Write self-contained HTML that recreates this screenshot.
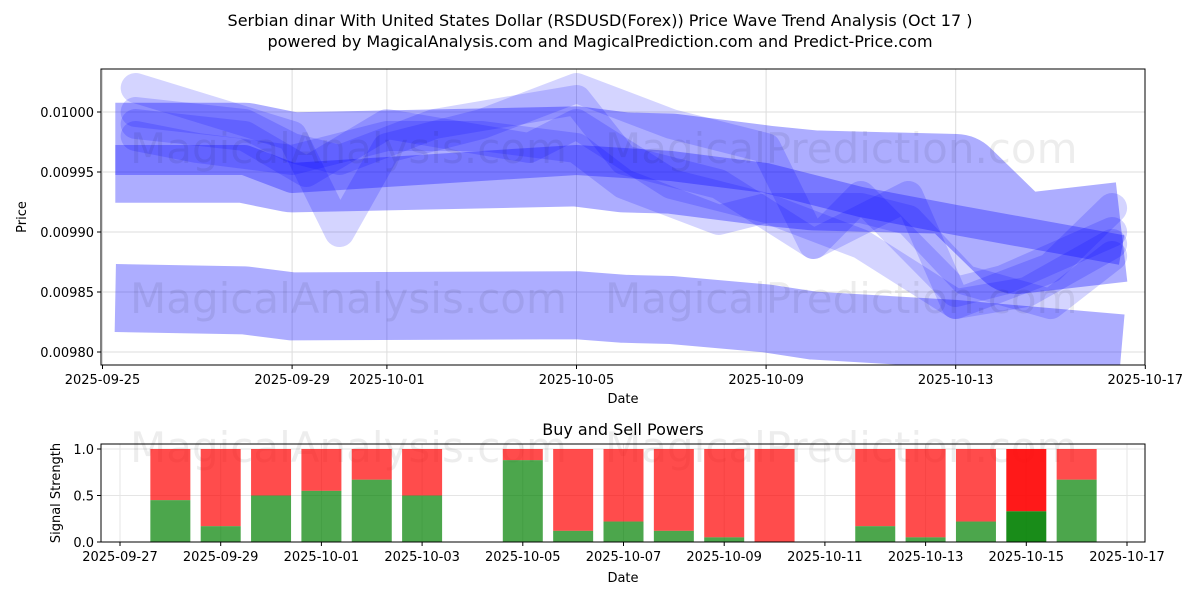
<!DOCTYPE html>
<html><head><meta charset="utf-8"><style>
body{margin:0;background:#fff;font-family:"Liberation Sans","DejaVu Sans",sans-serif}
svg text{font-family:"DejaVu Sans","Liberation Sans",sans-serif;fill:#000}
</style></head><body>
<svg id="c" width="1200" height="600" xmlns="http://www.w3.org/2000/svg">
<text x="600" y="26" font-size="16" text-anchor="middle">Serbian dinar With United States Dollar (RSDUSD(Forex)) Price Wave Trend Analysis (Oct 17 )</text>
<text x="600" y="47" font-size="16" text-anchor="middle">powered by MagicalAnalysis.com and MagicalPrediction.com and Predict-Price.com</text>
<g id="top"></g><g id="bot"></g>
</svg>
<script>
// top chart data (day offsets from 2025-09-25)
const topTickLabels=["2025-09-25","2025-09-29","2025-10-01","2025-10-05","2025-10-09","2025-10-13","2025-10-17"];
const topTickDays=[0,4,6,10,14,18,22];
const yTicks=[0.0098,0.00985,0.0099,0.00995,0.01];
const bandLowDays=[0.27,3,4,10,11,12,14,15,18,21.5];
const bandLowVals=[0.009845,0.009843,0.009838,0.009839,0.009836,0.009835,0.009828,0.009822,0.009815,0.009803];
const bandWideDays=[0.27,3,4,10,11,12,14,15,18,19.3,21.5];
const bandWideVals=[0.009966,0.009966,0.009958,0.009963,0.009958,0.009957,0.009947,0.009943,0.00994,0.00989,0.00990];
const bandMidDays=[0.27,3,4,10,12,14,15,16,18,21.5];
const bandMidVals=[0.009960,0.009960,0.009945,0.009960,0.009955,0.009945,0.009935,0.009925,0.00991,0.009885];
const zigDays=[[0.7,4,5,6,8,10,12,14,15,16,18,19,21.3],[0.7,3,4,5,7,10,11,13,15,17,18,20,21.3],[0.7,3,4.3,6,9,10,12,14,16,17,18.2,20,21.3],[0.7,2,4,6,8,10,11,13,14,16,18,19.5,21.3]];
const zigVals=[[0.01002,0.00998,0.00990,0.00997,0.00999,0.01002,0.00999,0.00997,0.00989,0.00993,0.00985,0.00986,0.00990],
[0.01000,0.00999,0.00997,0.00996,0.00999,0.01001,0.00996,0.00994,0.00989,0.00993,0.00984,0.00987,0.00992],
[0.00999,0.00998,0.00995,0.00999,0.00997,0.00999,0.00994,0.00992,0.00992,0.00991,0.00986,0.00984,0.00988],
[0.00998,0.00997,0.00996,0.00998,0.00998,0.00997,0.00994,0.00991,0.00992,0.00989,0.00984,0.00985,0.00989]];
// bottom chart data (day offsets from 2025-09-27)
const botTickLabels=["2025-09-27","2025-09-29","2025-10-01","2025-10-03","2025-10-05","2025-10-07","2025-10-09","2025-10-11","2025-10-13","2025-10-15","2025-10-17"];
const barDays=[1,2,3,4,5,6,8,9,10,11,12,13,15,16,17,18,19];
const buyVals=[0.45,0.17,0.5,0.55,0.67,0.5,0.88,0.12,0.22,0.12,0.05,0,0.17,0.05,0.22,0.33,0.67];
const NS="http://www.w3.org/2000/svg";
function mk(p,t,a){const e=document.createElementNS(NS,t);for(const k in a)e.setAttribute(k,a[k]);p.appendChild(e);return e;}
const T=document.getElementById('top'),B=document.getElementById('bot');
const X1=d=>102.5+d*47.4, Y1=v=>112+(0.01-v)/0.0002*240;
const X2=d=>120+d*50.35, Y2=v=>542-v*93;
let cp=mk(T,'clipPath',{id:'cl'});mk(cp,'rect',{x:101,y:69,width:1044,height:296});
let g=mk(T,'g',{'clip-path':'url(#cl)'});


topTickDays.forEach(d=>{mk(g,'line',{x1:X1(d),x2:X1(d),y1:69,y2:365,stroke:'#ddd','stroke-width':1});});
yTicks.forEach(v=>{mk(g,'line',{x1:101,x2:1145,y1:Y1(v),y2:Y1(v),stroke:'#ddd','stroke-width':1});});
function band(days,vals,w,op,cap,name){const pts=days.map((d,i)=>X1(d)+','+Y1(vals[i])).join(' ');
 const e=mk(g,'polyline',{points:pts,fill:'none',stroke:'#0000ff','stroke-opacity':op,'stroke-width':w,'stroke-linejoin':'round','stroke-linecap':cap});
 
 }
band(bandLowDays,bandLowVals,68,0.32,'butt','wave-band-low');
band(bandWideDays,bandWideVals,100,0.32,'butt','wave-band-wide');
zigDays.forEach((ds,i)=>band(ds,zigVals[i],30,0.17,'round','wave-line-'+i));
band(bandMidDays,bandMidVals,30,0.3,'butt','wave-band-mid');
mk(g,'text',{x:130,y:163,'font-size':42,fill:'#000','fill-opacity':0.07}).textContent='MagicalAnalysis.com';
mk(g,'text',{x:605,y:163,'font-size':42,fill:'#000','fill-opacity':0.07}).textContent='MagicalPrediction.com';
mk(g,'text',{x:130,y:313,'font-size':42,fill:'#000','fill-opacity':0.07}).textContent='MagicalAnalysis.com';
mk(g,'text',{x:605,y:313,'font-size':42,fill:'#000','fill-opacity':0.07}).textContent='MagicalPrediction.com';
mk(T,'rect',{x:101,y:69,width:1044,height:296,fill:'none',stroke:'#000','stroke-width':1});
topTickDays.forEach((d,i)=>{mk(T,'line',{x1:X1(d),x2:X1(d),y1:365,y2:369,stroke:'#000'});
 mk(T,'text',{x:X1(d),y:384,'font-size':13,'text-anchor':'middle'}).textContent=topTickLabels[i];});
yTicks.forEach(v=>{mk(T,'line',{x1:97,x2:101,y1:Y1(v),y2:Y1(v),stroke:'#000'});
 mk(T,'text',{x:94,y:Y1(v)+5,'font-size':13,'text-anchor':'end'}).textContent=v.toFixed(5);});
mk(T,'text',{x:623,y:403,'font-size':13,'text-anchor':'middle'}).textContent='Date';
mk(T,'text',{x:26,y:217,'font-size':13,'text-anchor':'middle',transform:'rotate(-90 26 217)'}).textContent='Price';
// bottom
mk(B,'text',{x:623,y:435,'font-size':16,'text-anchor':'middle'}).textContent='Buy and Sell Powers';
botTickLabels.forEach((l,i)=>{mk(B,'line',{x1:X2(i*2),x2:X2(i*2),y1:444,y2:542,stroke:'#e5e5e5'});});
[0,0.5,1].forEach(v=>mk(B,'line',{x1:101,x2:1145,y1:Y2(v),y2:Y2(v),stroke:'#e5e5e5'}));
mk(B,'text',{x:130,y:462,'font-size':42,fill:'#000','fill-opacity':0.07}).textContent='MagicalAnalysis.com';
mk(B,'text',{x:605,y:462,'font-size':42,fill:'#000','fill-opacity':0.07}).textContent='MagicalPrediction.com';
barDays.forEach((d,i)=>{const x=X2(d)-20,b=buyVals[i],dk=d===18;
 const r=mk(B,'rect',{x:x,y:Y2(1),width:40,height:Y2(b)-Y2(1),fill:'#ff0000','fill-opacity':dk?0.9:0.7});
 
 
 const s=mk(B,'rect',{x:x,y:Y2(b),width:40,height:Y2(0)-Y2(b),fill:'#008000','fill-opacity':dk?0.9:0.7});
 
 });
mk(B,'rect',{x:101,y:444,width:1044,height:98,fill:'none',stroke:'#000'});
botTickLabels.forEach((l,i)=>{mk(B,'line',{x1:X2(i*2),x2:X2(i*2),y1:542,y2:546,stroke:'#000'});
 mk(B,'text',{x:X2(i*2),y:561,'font-size':13,'text-anchor':'middle'}).textContent=l;});
[0,0.5,1].forEach(v=>{mk(B,'line',{x1:97,x2:101,y1:Y2(v),y2:Y2(v),stroke:'#000'});
 mk(B,'text',{x:94,y:Y2(v)+5,'font-size':13,'text-anchor':'end'}).textContent=v.toFixed(1);});
mk(B,'text',{x:623,y:582,'font-size':13,'text-anchor':'middle'}).textContent='Date';
mk(B,'text',{x:60,y:493,'font-size':13,'text-anchor':'middle',transform:'rotate(-90 60 493)'}).textContent='Signal Strength';
</script>
</body></html>
